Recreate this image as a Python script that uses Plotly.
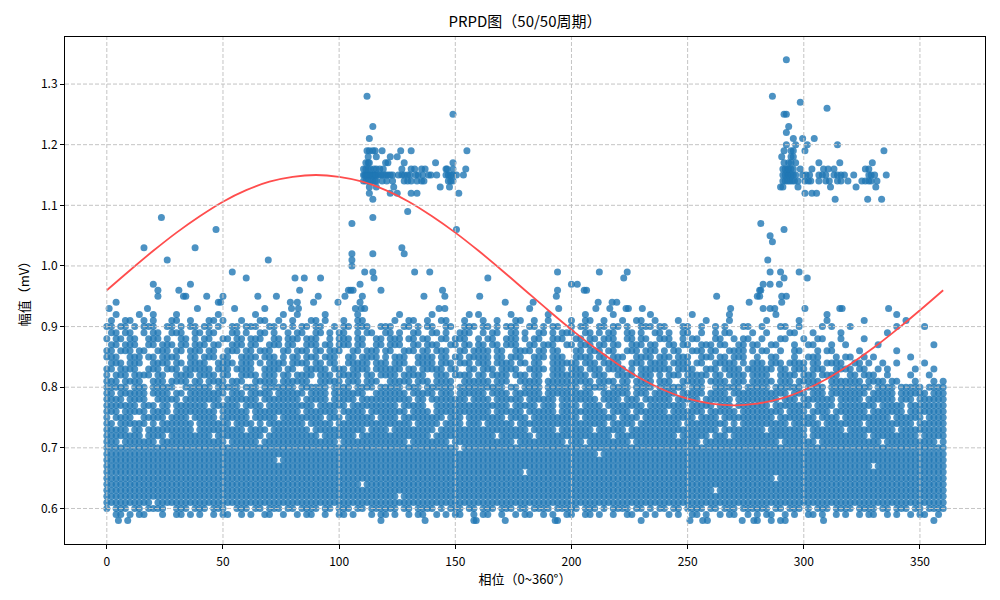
import plotly.graph_objects as go

# Escala de fase: cada carácter de las filas densas es un paso de 2 grados
PHASE_STEP = 2

# Niveles de amplitud de la banda densa (mV)
band_levels = [0.59, 0.60, 0.61, 0.62, 0.63, 0.64, 0.65, 0.66, 0.67, 0.68,
               0.69, 0.70, 0.71, 0.72, 0.73, 0.74, 0.75, 0.76, 0.77, 0.78,
               0.79, 0.80, 0.81, 0.82, 0.83, 0.84, 0.85, 0.86, 0.87, 0.88,
               0.89, 0.90, 0.91, 0.92]

F = "####################"

# Ocupación de cada fila ('#' = descarga), de 0 a 360 grados
band_rows = [
    # 0.59
    "..##.#.##...#..##.#." "#..#.##..#.#..##..#." ".#.##..#..##.#...#.#" "#.#..#.##..#.#.##..#"
    ".##..#..#.##..#.#..#" "#..##.#..#..##..#.#." ".#.#..##.#..#.##..#." "#.##..#.#..##.#..#.#"
    "..#.##..#.#..#.##..#" ".",
    # 0.60
    "#.###.##.####..###.#" "##.###..###.##.###.#" "#.####.##.###.##.###" "###.##.####.#.###.##"
    ".###.###.##.####.###" "##.###.#.####.##.#.#" "#.##.####.##.###.###" "###.##.###.#.###.###"
    "#.####.##.###.##.###" "#",
    # 0.61
    "##########.#########" + F + F + F + F + F + F + F + F + "#",
    # 0.62
    F + F + F + "###.################" + F + F + F + F + F + "#",
    # 0.63
    F + F + F + F + F + F + "###########.########" + F + F + "#",
    # 0.64
    F + F + "###############.####" + F + F + F + F + F + F + "#",
    # 0.65
    F + F + F + F + F + F + F + "####.###############" + F + "#",
    # 0.66
    F + F + F + F + "##########.#########" + F + F + F + F + "#",
    # 0.67
    F + F + F + F + F + F + F + F + "#####.##############" + "#",
    # 0.68
    F + "#################.##" + F + F + F + F + F + F + F + "#",
    # 0.69
    F + F + F + F + F + "######.#############" + F + F + F + "#",
    # 0.70
    F + F + F + "################.###" + F + F + F + F + F + "#",
    # 0.71
    "###.#######.########" "######.######.######" "##########.#########" "#####.########.#####"
    "########.##########." "###.#########.######" "########.###########" "#####.#######.######"
    "#######.###########." "#",
    # 0.72
    "########.####.######" "###.##########.#####" "######.#######.#####" "##########.#########"
    "####.#######.#######" "#########.##########" "###.######.###.#####" "###########.########"
    "####.##########.####" "#",
    # 0.73
    "#####.##.##########." "##########.####.####" "####.###########.###" "#.#########.########"
    "###########.#####.##" "#####.######.#######" "############.#######" "##.########.#######."
    "##########.#########" "#",
    # 0.74
    "##.######.#.#######." "#######.####.#.#####" "###.#####.##########" "######.#####.####.##"
    "#.######.###########" "########.#####.#####" "####.#########.#.###" "#######.######.#####"
    "###.##########.#####" "#",
    # 0.75
    "#.####..#####.####.#" "####.######.#####.##" "#######.###.######.#" "###.#########.###.##"
    "######.####.########" "##.#######.####.####" "#######.####.#######" "####.########.####.#"
    "#########.######.###" "#",
    # 0.76
    "###.#####.####.#####" "####.######.########" "##.#######.#####.###" "#####.####.#########"
    "###.######.######.##" "########.####.######" "#.#######.######.###" "######.####.####.###"
    "####.#######.#######" "#",
    # 0.77
    "#######.###.##.#####" "##.######.####.#####" "#####.######.#######" "###.#####..#########"
    "#######.#####.###.##" "##.####.########.###" "#####.#####.###.####" "###.########.####.##"
    "######.#####.#######" "#",
    # 0.78
    "####.####..#####.###" "#####.#######.######" "##.#####.#####.#####" "######.##.########.#"
    "###.######.######.##" "######.####.###.####" "##.#####.######.####" "#####.###.#######.##"
    "###.######.###.#####" "#",
    # 0.79
    "##.######.####.##.##" "######.###.#####.###" "###.####.#######..##" "#####.#####.###.####"
    "##.####.######.#####" "#####..######.###.##" "###.#####.####.#####" "#######.###.###.####"
    "####.#####.######.##" "#",
    # 0.80
    "#####.###.#####..###" "###.#####.###.######" "#.######.####.####.#" "####.###.######.####"
    "######.##.####.#####" "##.#####.####.####.#" "#####.###..######.##" "###.######.####.####"
    "#####.####.#####.###" "#",
    # 0.81
    "###.####..###.####.#" "#.####.###..#####.##" "####..#####.###.###." ".#####.###.####..###"
    "###.###..#####.#####" "#####.####.##.####.#" "##..#####.####.###.#" "####.###.#####..####"
    "###.####.##...#...#." "#",
    # 0.82
    "#.###.####.##..####." "####.##..####.###.##" ".####.###.#####.##.#" "###.#####..###.####."
    "##.####.###.##..####" "####.###..####.###.#" ".###.#####.##.####.#" "###..####.###.####.."
    "##.###..#....#...#.." ".",
    # 0.83
    "##.####..###.###.###" "###.###.####..####.#" "#..#####.###.####.##" "####.##.#####.##..##"
    ".###.####..####.###." "###.###.####.#.#####" "##.####..###.####.##" "####.##.###.###..###"
    "#.##..#.#.....#...#." ".",
    # 0.84
    ".###.###..####.##.##" "##..####.###.#.####." "####.##.##..#####.##" "#.###..####.###.###."
    "###.####.##.##..####" "##.###.####..###.###" "#.####.##..#####.#.#" "##.###.####.##.####."
    ".##.#..#..#.....#..." ".",
    # 0.85
    "###..###.##.####..##" ".###.##..####.###.#." "##.###.###..##.####." "#.###..####.##.##.##"
    "###.##.###..###.###." ".####.##.###..####.#" "##.###..###.##.###.." "#..##...#..###...#.#"
    "#..#.#.......#......" ".",
    # 0.86
    "##.###.##..###.##.##" "#.##..###.##.###..##" ".###.##.###..##.###." "##..###.##.###..##.#"
    "###.##..####.##.##.." ".##.###.##..###.###." "#.##..###.##..####.#" ".##..#..##...#.##..."
    "..#.......#........." ".",
    # 0.87
    ".##.###..##.###.##.#" "##.##..###.##..###.#" "#..###.##.###.##..##" ".###..##.###..##.##."
    "##.##.###..##.###..#" "#.###.##.##..###.##." ".##.##..###.##..##.#" "#..##...#..##...#..#"
    "......#...........#." ".",
    # 0.88
    "#.##.##..###.#..##.#" ".##..##.##.###..##.#" "##.###..#.###.##..##" ".###.##.##..##.###.."
    "#.##..###.#.##..###." ".##.##.###..##.##..#" "##..#.##...##..#.##." ".#...##...#..##...#."
    "...#................" ".",
    # 0.89
    ".##.##..#.##..###..#" "#.##...##.#..##.#..#" ".##..##.#.##..#.##.." "##.#..##..##.#..###."
    ".#.##..##.#..##.#.##" "#..##.#.##..##.#..##" ".#..##..#..#.##....#" "..#....##...#.....#."
    "........#..........." ".",
    # 0.90
    "##.##.#.###..##.#.##" ".##.#..##.###..##.#." "#.##.##..#.##.###..#" "##..##.#.##..##..###"
    ".##.#.###..##.#.##.." "#.##..##.##.#..###.#" "#...##..#..#.#...##." ".#...##..#....#.#..."
    "#.........#.....#..." ".",
    # 0.91
    ".#..##..#.#...##..#." "..##.#...#...##..#.." "#...##.#...#..##...." "..#..##..#..##...#.."
    ".#..#...##..#..#...." "#..##..#...#..##..#." "...#.....#....#....." "..#......#.....#...."
    "...#........#......." ".",
    # 0.92
    "..#....#..#....#...." "....#.......#.....#." ".#.....#......#....." "...#......#.......#."
    "#......#.......#...." "...#.....#.......#.." "......#.......#....." "....#..........#...."
    "..........#........." ".",
]

# Descargas dispersas y agrupadas fuera de la banda (fase en grados)
hi_levels = [0.58, 0.93, 0.94, 0.95, 0.96, 0.97, 0.98, 0.99, 1.00, 1.01,
             1.02, 1.03, 1.04, 1.05, 1.06, 1.07, 1.08, 1.09, 1.11, 1.12,
             1.13, 1.14, 1.15, 1.16, 1.17, 1.18, 1.19, 1.20, 1.21, 1.22,
             1.23, 1.25, 1.26, 1.27, 1.28, 1.34]
hi_phases = [
    [5, 9, 118, 137, 158, 159, 171.5, 193, 194, 230, 251, 256.5, 258.5, 273.5, 278.5, 280, 286, 290, 292, 308.5, 356],
    [1, 17.5, 39, 55, 68, 79.5, 82.5, 107, 109.5, 111, 143, 145.5, 182, 194.5, 210.5, 216.5, 223.5, 224.5, 230.5,
     268.5, 282.5, 285.5, 287.5, 300.5, 315.5, 316.5, 336.5],
    [4, 48, 49, 79, 82, 89, 99.5, 109, 171.5, 183.5, 211.5, 217.5, 219.5, 276.5, 290.5],
    [22, 33, 34, 43, 50, 65, 73, 91, 102.5, 110, 136.5, 145.5, 160.5, 193.5, 262.5, 280, 281, 290.5, 292.5],
    [22, 31, 83, 104, 105, 106, 118, 144.5, 194, 205.5, 206.5, 281, 281.5],
    [20, 36, 109, 200, 202.5, 282.5, 285.5, 289.5],
    [60, 81, 85, 92, 115, 164, 222.5, 291.5, 301.5],
    [54, 111, 114.5, 132.5, 139, 194, 212, 224, 285.5, 290, 298],
    [105.5],
    [26, 69.5, 105.5, 284.5],
    [105.5, 114.5, 128],
    [16, 38, 127],
    [286.5],
    [285.5],
    [47, 150.5, 291.5],
    [105.5, 281.5],
    [23.5, 114.5],
    [129.5],
    [114.5, 313.5, 327.5, 333.5],
    [113, 122, 125, 131, 133.5, 151.5, 300.5, 303.5, 305.5],
    [113, 116, 123.5, 143.5, 147.5, 290, 291, 297.5, 311.5, 322.5, 331],
    [110.5, 111.5, 112.5, 113.5, 114.5, 115.5, 116, 118.5, 120.5, 123, 128, 129.5, 131, 133.5, 135.5, 136.5,
     147, 148, 149, 291, 292, 293, 294, 295, 296, 297.5, 300.5, 302, 303, 306.5, 309.5, 311, 314.5, 316, 319,
     325, 326.5, 328, 329, 331.5],
    [110.5, 111, 111.5, 112, 112.5, 113, 113.5, 114, 114.5, 115, 115.5, 116, 117, 118, 119, 120, 121, 122, 123,
     125.5, 127, 128, 129.5, 130.5, 133, 134, 136, 138.5, 139.5, 142, 146, 147, 148, 149, 150.5, 153.5,
     291, 292, 293, 293.5, 294.5, 295.5, 296.5, 299.5, 301, 302.5, 306.5, 308, 309.5, 313, 314.5, 316, 317.5,
     321.5, 328, 329, 330.5, 335.5],
    [110.5, 111.5, 112.5, 113.5, 115, 116, 117.5, 119, 127, 131, 132.5, 135.5, 137, 146, 146.5, 149, 154.5,
     291, 292, 293, 293.5, 294.5, 295.5, 298.5, 303.5, 308.5, 310.5, 313, 326.5, 328],
    [111.5, 112.5, 113, 120, 121, 128, 141.5, 149, 291.5, 293.5, 294.5, 296.5, 306.5, 315.5, 329.5],
    [112.5, 116, 122, 125, 290.5, 294.5, 295.5],
    [112, 113, 114.5, 115.5, 118.5, 126.5, 131, 155, 291.5, 294.5, 295.5, 300.5, 334.5],
    [292.5, 296.5, 301.5, 314.5],
    [113, 295.5, 299.5, 304.5],
    [292.5],
    [114.5, 293.5],
    [149, 291.5, 292.5],
    [310],
    [298.5],
    [112, 286.5],
    [292.5],
]

# Curva de referencia de la tensión (mV) cada 10 grados
curve_phase = [0, 10, 20, 30, 40, 50, 60, 70, 80, 90, 100, 110, 120, 130, 140, 150, 160, 170, 180,
               190, 200, 210, 220, 230, 240, 250, 260, 270, 280, 290, 300, 310, 320, 330, 340, 350, 360]
curve_amp = [0.960, 0.993, 1.025, 1.055, 1.082, 1.106, 1.125, 1.139, 1.147, 1.150, 1.147, 1.139, 1.125,
             1.106, 1.082, 1.055, 1.025, 0.993, 0.960, 0.927, 0.895, 0.865, 0.838, 0.814, 0.795, 0.781,
             0.773, 0.770, 0.773, 0.781, 0.795, 0.814, 0.838, 0.865, 0.895, 0.927, 0.960]

x_ticks = [0, 50, 100, 150, 200, 250, 300, 350]
y_ticks = [0.6, 0.7, 0.8, 0.9, 1.0, 1.1, 1.2, 1.3]

# Construir puntos
fase, amplitud = [], []
for nivel, fila in zip(band_levels, band_rows):
    for i, c in enumerate(fila):
        if c == "#" and i * PHASE_STEP <= 360:
            fase.append(i * PHASE_STEP)
            amplitud.append(nivel)
for nivel, fases in zip(hi_levels, hi_phases):
    for p in fases:
        fase.append(p)
        amplitud.append(nivel)

FUENTE = "Noto Sans CJK SC, sans-serif"

fig = go.Figure()
fig.add_trace(go.Scatter(
    x=fase, y=amplitud, mode="markers",
    marker=dict(size=7, color="#1f77b4", opacity=0.8, line=dict(width=0)),
    showlegend=False, hoverinfo="skip"))
fig.add_trace(go.Scatter(
    x=curve_phase, y=curve_amp, mode="lines", line=dict(color="#ff4d4d", width=1.8, shape="spline"),
    showlegend=False))

# Rejilla discontinua por encima de los puntos (como en matplotlib)
grid = dict(color="#c4c4c4", width=1, dash="4px,2px")
shapes = [dict(type="line", xref="x", yref="paper", x0=t, x1=t, y0=0, y1=1, line=grid, layer="above")
          for t in x_ticks]
shapes += [dict(type="line", xref="paper", yref="y", x0=0, x1=1, y0=t, y1=t, line=grid, layer="above")
           for t in y_ticks]

# La página añade 8 px de margen al cuerpo: se compensa en los márgenes
fig.update_layout(
    width=1000, height=600,
    margin=dict(l=57, r=23, t=29, b=64),
    paper_bgcolor="white", plot_bgcolor="white",
    font=dict(family=FUENTE, size=12, color="black"),
    title=dict(text="PRPD图（50/50周期）", x=0.5, xref="paper", xanchor="center",
               y=0.977, yref="container", yanchor="middle", font=dict(size=15)),
    shapes=shapes,
)
fig.update_xaxes(range=[-18, 378], tickvals=x_ticks, showgrid=False, zeroline=False, automargin=False,
                 showline=True, mirror=True, linecolor="black", linewidth=1,
                 ticks="outside", ticklen=4, tickcolor="black", ticklabelstandoff=3,
                 title=dict(text="相位（0~360°）", font=dict(size=13), standoff=4))
fig.update_yaxes(range=[0.5414, 1.3776], tickvals=y_ticks, tickformat=".1f", showgrid=False, zeroline=False,
                 automargin=False, showline=True, mirror=True, linecolor="black", linewidth=1,
                 ticks="outside", ticklen=4, tickcolor="black",
                 title=dict(text="幅值（mV）", font=dict(size=13), standoff=8))

fig.write_html("out.html")
